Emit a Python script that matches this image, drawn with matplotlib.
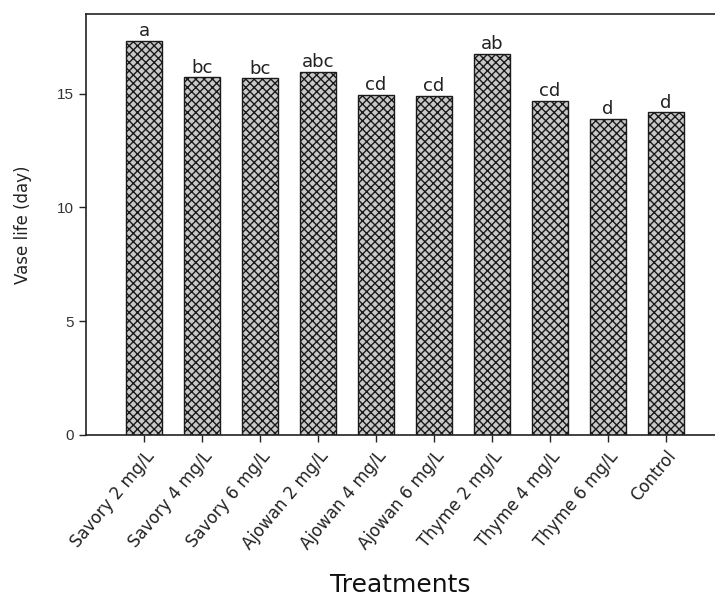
import numpy as np
import matplotlib.pyplot as plt
import matplotlib as mpl

# treatment groups and mean vase life (days)
treatments = ["Savory 2 mg/L", "Savory 4 mg/L", "Savory 6 mg/L",
              "Ajowan 2 mg/L", "Ajowan 4 mg/L", "Ajowan 6 mg/L",
              "Thyme 2 mg/L", "Thyme 4 mg/L", "Thyme 6 mg/L", "Control"]
vase_life = [17.33, 15.72, 15.67, 15.97, 14.96, 14.90, 16.76, 14.68, 13.90, 14.18]
groups = ["a", "bc", "bc", "abc", "cd", "cd", "ab", "cd", "d", "d"]
y_ticks = [0, 5, 10, 15]

LABEL_FONT = "DejaVu Sans"
TICK_FONT = "Liberation Sans"

mpl.rcParams["hatch.linewidth"] = 1.0
mpl.rcParams["hatch.color"] = "#2a2a2a"

fig = plt.figure(figsize=(7.15, 5.99), dpi=100)
ax = fig.add_axes([0.1203, 0.2738, 0.8797, 0.7028])

x = np.arange(len(treatments))
ax.bar(x, vase_life, width=0.62, color="#c8c8c8", edgecolor="#1a1a1a",
       linewidth=1.0, hatch="xxxx", zorder=2)

for xi, v, g in zip(x, vase_life, groups):
    ax.text(xi, v + 0.03, g, ha="center", va="bottom", fontsize=13,
            family=LABEL_FONT, color="#222222")

ax.set_xlim(-1.0, 9.85)
ax.set_ylim(0, 18.5)
ax.set_yticks(y_ticks)
ax.set_yticklabels([str(t) for t in y_ticks], family=TICK_FONT, fontsize=11,
                   color="#333333")
ax.set_xticks(x)
ax.set_xticklabels(treatments, rotation=50, ha="right", rotation_mode="anchor",
                   family=LABEL_FONT, fontsize=12, color="#222222")
ax.tick_params(axis="both", direction="out", length=5, width=1.0,
               color="#222222", pad=4)

for side in ["left", "top", "bottom"]:
    ax.spines[side].set_linewidth(1.2)
    ax.spines[side].set_color("#222222")
ax.spines["right"].set_visible(False)

ax.set_ylabel("Vase life (day)", family=LABEL_FONT, fontsize=12, labelpad=18,
              color="#222222")
ax.set_xlabel("Treatments", family=LABEL_FONT, fontsize=18, labelpad=14,
              color="#111111")

fig.savefig("out.png", dpi=100)
